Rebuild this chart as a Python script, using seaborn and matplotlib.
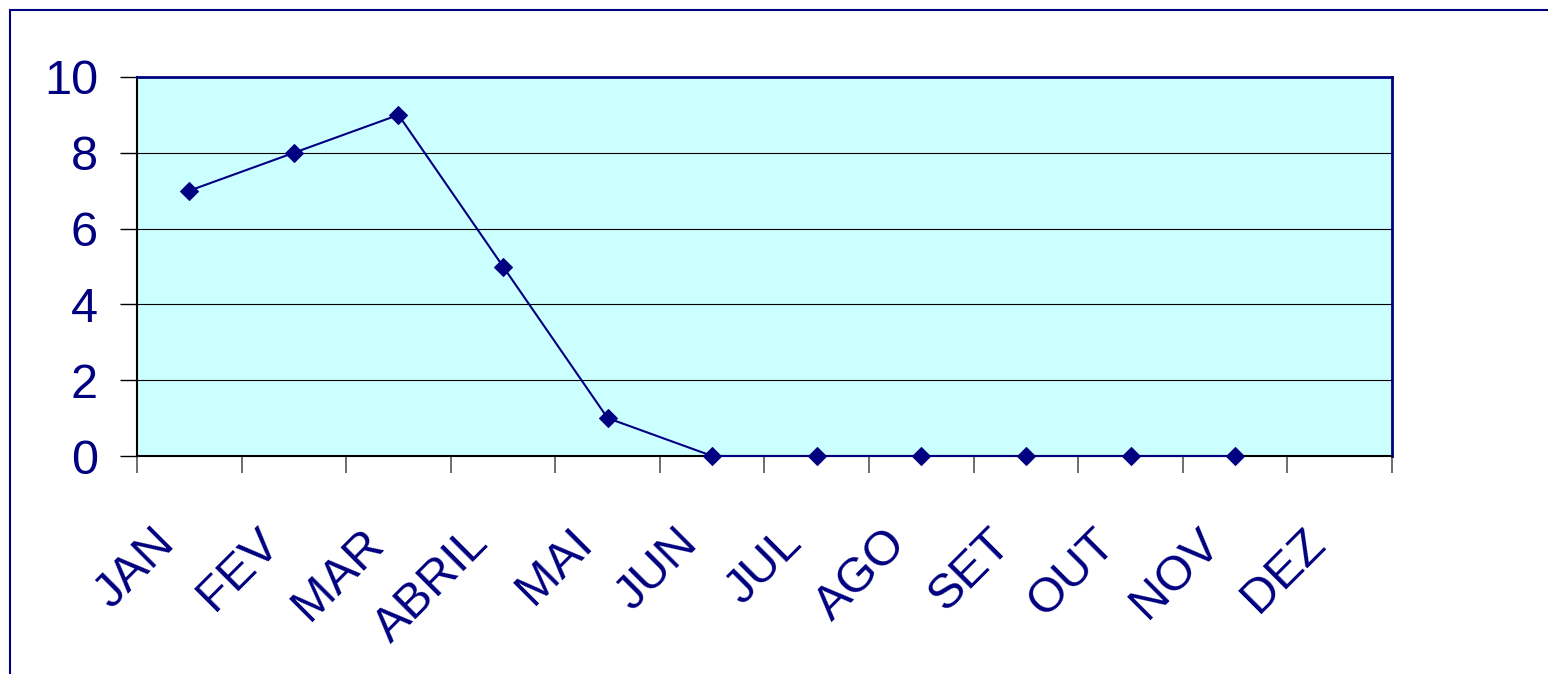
import numpy as np
import pandas as pd
import seaborn as sns
import matplotlib.pyplot as plt
from matplotlib.lines import Line2D
from matplotlib.transforms import ScaledTranslation

# Data
MONTHS = ["JAN", "FEV", "MAR", "ABRIL", "MAI", "JUN",
          "JUL", "AGO", "SET", "OUT", "NOV", "DEZ"]
VALUES = [7, 8, 9, 5, 1, 0, 0, 0, 0, 0, 0, np.nan]
Y_TICKS = [0, 2, 4, 6, 8, 10]

NAVY = "#000080"
FACE = "#CCFFFF"

W, H, DPI = 1548, 674, 100


def main():
    sns.set_style("white")
    plt.rcParams["font.family"] = ["Liberation Sans", "DejaVu Sans"]

    df = pd.DataFrame({"pos": range(len(MONTHS)), "valor": VALUES})

    fig = plt.figure(figsize=(W / DPI, H / DPI), dpi=DPI)
    ax = fig.add_axes([137 / W, 1 - 456 / H, (1392 - 137) / W, (456 - 77) / H])
    ax.set_facecolor(FACE)

    sns.lineplot(data=df.dropna(), x="pos", y="valor", ax=ax, color=NAVY,
                 linewidth=1.5, marker="D", markersize=9,
                 markerfacecolor=NAVY, markeredgecolor=NAVY)
    for ln in ax.lines:
        ln.set_clip_on(False)
        ln.set_zorder(5)

    ax.set_xlim(-0.5, len(MONTHS) - 0.5)
    ax.set_ylim(0, 10)

    # gridlines
    ax.set_yticks(Y_TICKS)
    ax.yaxis.grid(True, color="black", linewidth=0.8)
    ax.set_axisbelow(True)

    # category labels centred, tick marks on the boundaries
    ax.set_xticks(range(len(MONTHS)))
    ax.set_xticklabels(MONTHS, rotation=45, ha="right", va="top",
                       rotation_mode="anchor")
    ax.set_xticks(np.arange(-0.5, len(MONTHS)), minor=True)
    ax.tick_params(axis="x", which="major", length=0, pad=55,
                   labelsize=35, labelcolor=NAVY)
    ax.tick_params(axis="x", which="minor", length=12, width=1.2,
                   color="#555555", direction="out", bottom=True)
    ax.tick_params(axis="y", length=12, width=1.0, color="black",
                   direction="out", left=True, pad=16,
                   labelsize=35, labelcolor=NAVY)
    shift = ScaledTranslation(-0.38, 0.12, fig.dpi_scale_trans)
    for lbl in ax.get_xticklabels():
        lbl.set_transform(lbl.get_transform() + shift)

    ax.set_xlabel("")
    ax.set_ylabel("")

    for side in ["top", "right"]:
        ax.spines[side].set_color(NAVY)
        ax.spines[side].set_linewidth(2)
    for side in ["left", "bottom"]:
        ax.spines[side].set_color("black")
        ax.spines[side].set_linewidth(1.5)

    # outer chart frame (only left and top edges visible)
    fig.add_artist(Line2D([9.5 / W, 9.5 / W], [0, 1 - 9.5 / H],
                          transform=fig.transFigure, color=NAVY, lw=1.5))
    fig.add_artist(Line2D([9.5 / W, 1], [1 - 9.5 / H, 1 - 9.5 / H],
                          transform=fig.transFigure, color=NAVY, lw=1.5))

    fig.savefig("out.png", dpi=DPI)


if __name__ == "__main__":
    main()
